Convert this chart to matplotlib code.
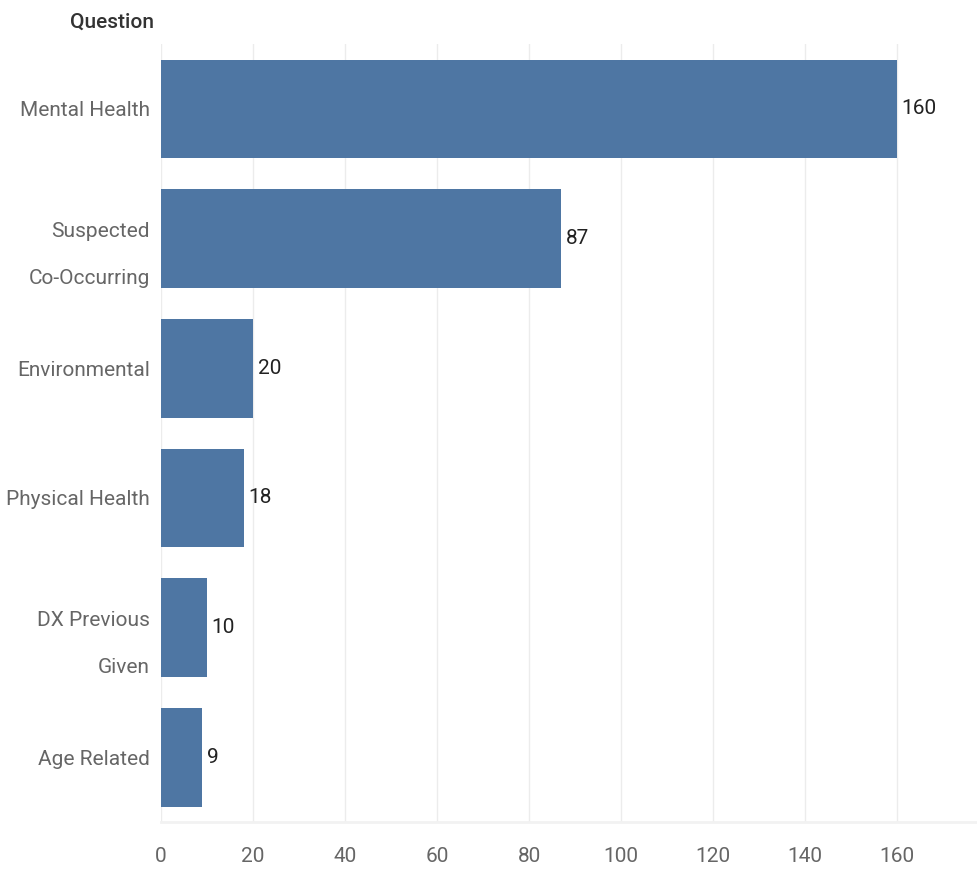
import matplotlib
matplotlib.use("Agg")
import matplotlib.pyplot as plt

categories = ["Mental Health", "Suspected\nCo-Occurring", "Environmental",
              "Physical Health", "DX Previous\nGiven", "Age Related"]
values = [160, 87, 20, 18, 10, 9]
xticks = [0, 20, 40, 60, 80, 100, 120, 140, 160]

plt.rcParams['font.family'] = ['Roboto', 'DejaVu Sans']

fig = plt.figure(figsize=(9.78, 8.83), dpi=100)
ax = fig.add_axes([0.1646, 0.069, 0.8354, 0.881])

ypos = list(range(len(categories)))
ax.barh(ypos, values, height=0.76, color="#4e76a3", zorder=3)
for y, v in zip(ypos, values):
    ax.text(v + 1.0, y, str(v), va="center", ha="left", fontsize=15, color="#222222")

ax.set_ylim(len(categories) - 0.5, -0.5)
ax.set_xlim(0, 177.6)
ax.set_yticks(ypos)
ax.set_yticklabels(categories, fontsize=15, color="#666666", linespacing=2.9)
ax.set_xticks(xticks)
ax.set_xticklabels([str(t) for t in xticks], fontsize=15, color="#666666")
ax.tick_params(axis="y", length=0, pad=8)
ax.tick_params(axis="x", length=0, pad=18)
ax.grid(axis="x", color="#ececec", linewidth=1, zorder=0)
for s in ["top", "right", "left"]:
    ax.spines[s].set_visible(False)
ax.spines["bottom"].set_color("#f2f2f2")
ax.spines["bottom"].set_linewidth(2)

fig.text(0.157, 0.975, "Question", ha="right", va="center", fontsize=15,
         color="#333333", fontweight="medium")

fig.savefig("out.png", dpi=100)
